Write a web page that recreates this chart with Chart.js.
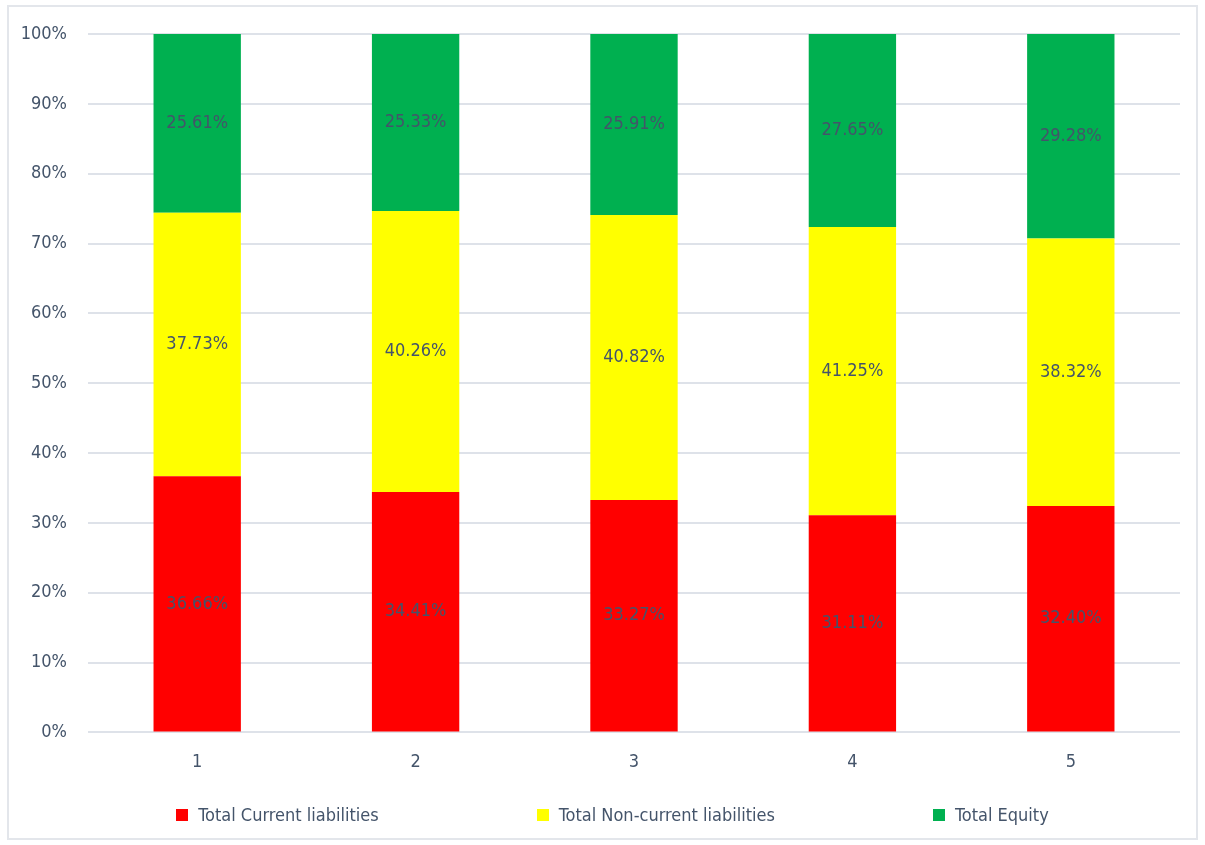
<!DOCTYPE html>
<html>
<head>
<meta charset="utf-8">
<script src="https://cdn.jsdelivr.net/npm/chart.js@4.4.1/dist/chart.umd.min.js"></script>
<style>
  html, body { margin: 0; padding: 0; background: #fff; }
  #page { position: relative; width: 1205px; height: 845px; overflow: hidden; }
  #frame { position: absolute; left: 7px; top: 5px; width: 1191px; height: 835px;
           box-sizing: border-box; border: 2px solid #E3E6EB; }
  #wrap { position: absolute; left: 0; top: 0; width: 1205px; height: 845px; }
  #legend { position: absolute; left: 10px; width: 1205px; top: 804px; display: flex;
            justify-content: center; gap: 158px;
            font-family: "DejaVu Sans Condensed", "Liberation Sans Narrow", sans-serif;
            font-size: 18px; color: #44546A; }
  .item { display: flex; align-items: center; white-space: nowrap; }
  .swatch { width: 12px; height: 12px; margin-right: 10px; }
</style>
</head>
<body>
<div id="page">
  <div id="frame"></div>
  <div id="wrap"><canvas id="c" width="1205" height="845"></canvas></div>
  <div id="legend"></div>
</div>
<script>
const categories = ["1", "2", "3", "4", "5"];
const currentLiabilities = [36.66, 34.41, 33.27, 31.11, 32.40];
const nonCurrentLiabilities = [37.73, 40.26, 40.82, 41.25, 38.32];
const totalEquity = [25.61, 25.33, 25.91, 27.65, 29.28];
const yTicks = [0, 10, 20, 30, 40, 50, 60, 70, 80, 90, 100];

const FONT = '"DejaVu Sans Condensed", "Liberation Sans Narrow", sans-serif';
const TEXT = '#44546A';

const datasets = [
  { label: 'Total Current liabilities', data: currentLiabilities, backgroundColor: '#FF0000' },
  { label: 'Total Non-current liabilities', data: nonCurrentLiabilities, backgroundColor: '#FFFF00' },
  { label: 'Total Equity', data: totalEquity, backgroundColor: '#00B050' }
];

// value labels centred inside each stacked segment
const segmentLabels = {
  id: 'segmentLabels',
  afterDatasetsDraw(chart) {
    const ctx = chart.ctx;
    ctx.save();
    ctx.font = '18px ' + FONT;
    ctx.fillStyle = TEXT;
    ctx.textAlign = 'center';
    ctx.textBaseline = 'middle';
    chart.data.datasets.forEach((ds, i) => {
      chart.getDatasetMeta(i).data.forEach((bar, j) => {
        const y = (bar.y + bar.base) / 2;
        ctx.fillText(ds.data[j].toFixed(2) + '%', bar.x, y);
      });
    });
    ctx.restore();
  }
};

new Chart(document.getElementById('c'), {
  type: 'bar',
  data: { labels: categories, datasets },
  options: {
    responsive: false,
    animation: false,
    layout: { padding: { left: 0, right: 25, top: 34, bottom: 53 } },
    plugins: { legend: { display: false }, tooltip: { enabled: false } },
    datasets: { bar: { categoryPercentage: 0.4, barPercentage: 1.0, borderWidth: 0 } },
    scales: {
      x: {
        stacked: true,
        grid: { display: false, drawTicks: false },
        border: { display: false },
        ticks: { color: TEXT, font: { family: FONT, size: 18 }, padding: 19 }
      },
      y: {
        stacked: true,
        min: 0, max: 100,
        afterFit(scale) { scale.width = 88; },
        afterBuildTicks(scale) { scale.ticks = yTicks.map(v => ({ value: v })); },
        grid: { color: '#DEE2E9', lineWidth: 2, drawTicks: false },
        border: { display: false },
        ticks: { color: TEXT, font: { family: FONT, size: 18 }, padding: 21,
                 callback: v => v + '%' }
      }
    }
  },
  plugins: [segmentLabels]
});

// legend row
const legend = document.getElementById('legend');
datasets.forEach(ds => {
  const item = document.createElement('div');
  item.className = 'item';
  const sw = document.createElement('span');
  sw.className = 'swatch';
  sw.style.background = ds.backgroundColor;
  const tx = document.createElement('span');
  tx.textContent = ds.label;
  item.appendChild(sw);
  item.appendChild(tx);
  legend.appendChild(item);
});
</script>
</body>
</html>
